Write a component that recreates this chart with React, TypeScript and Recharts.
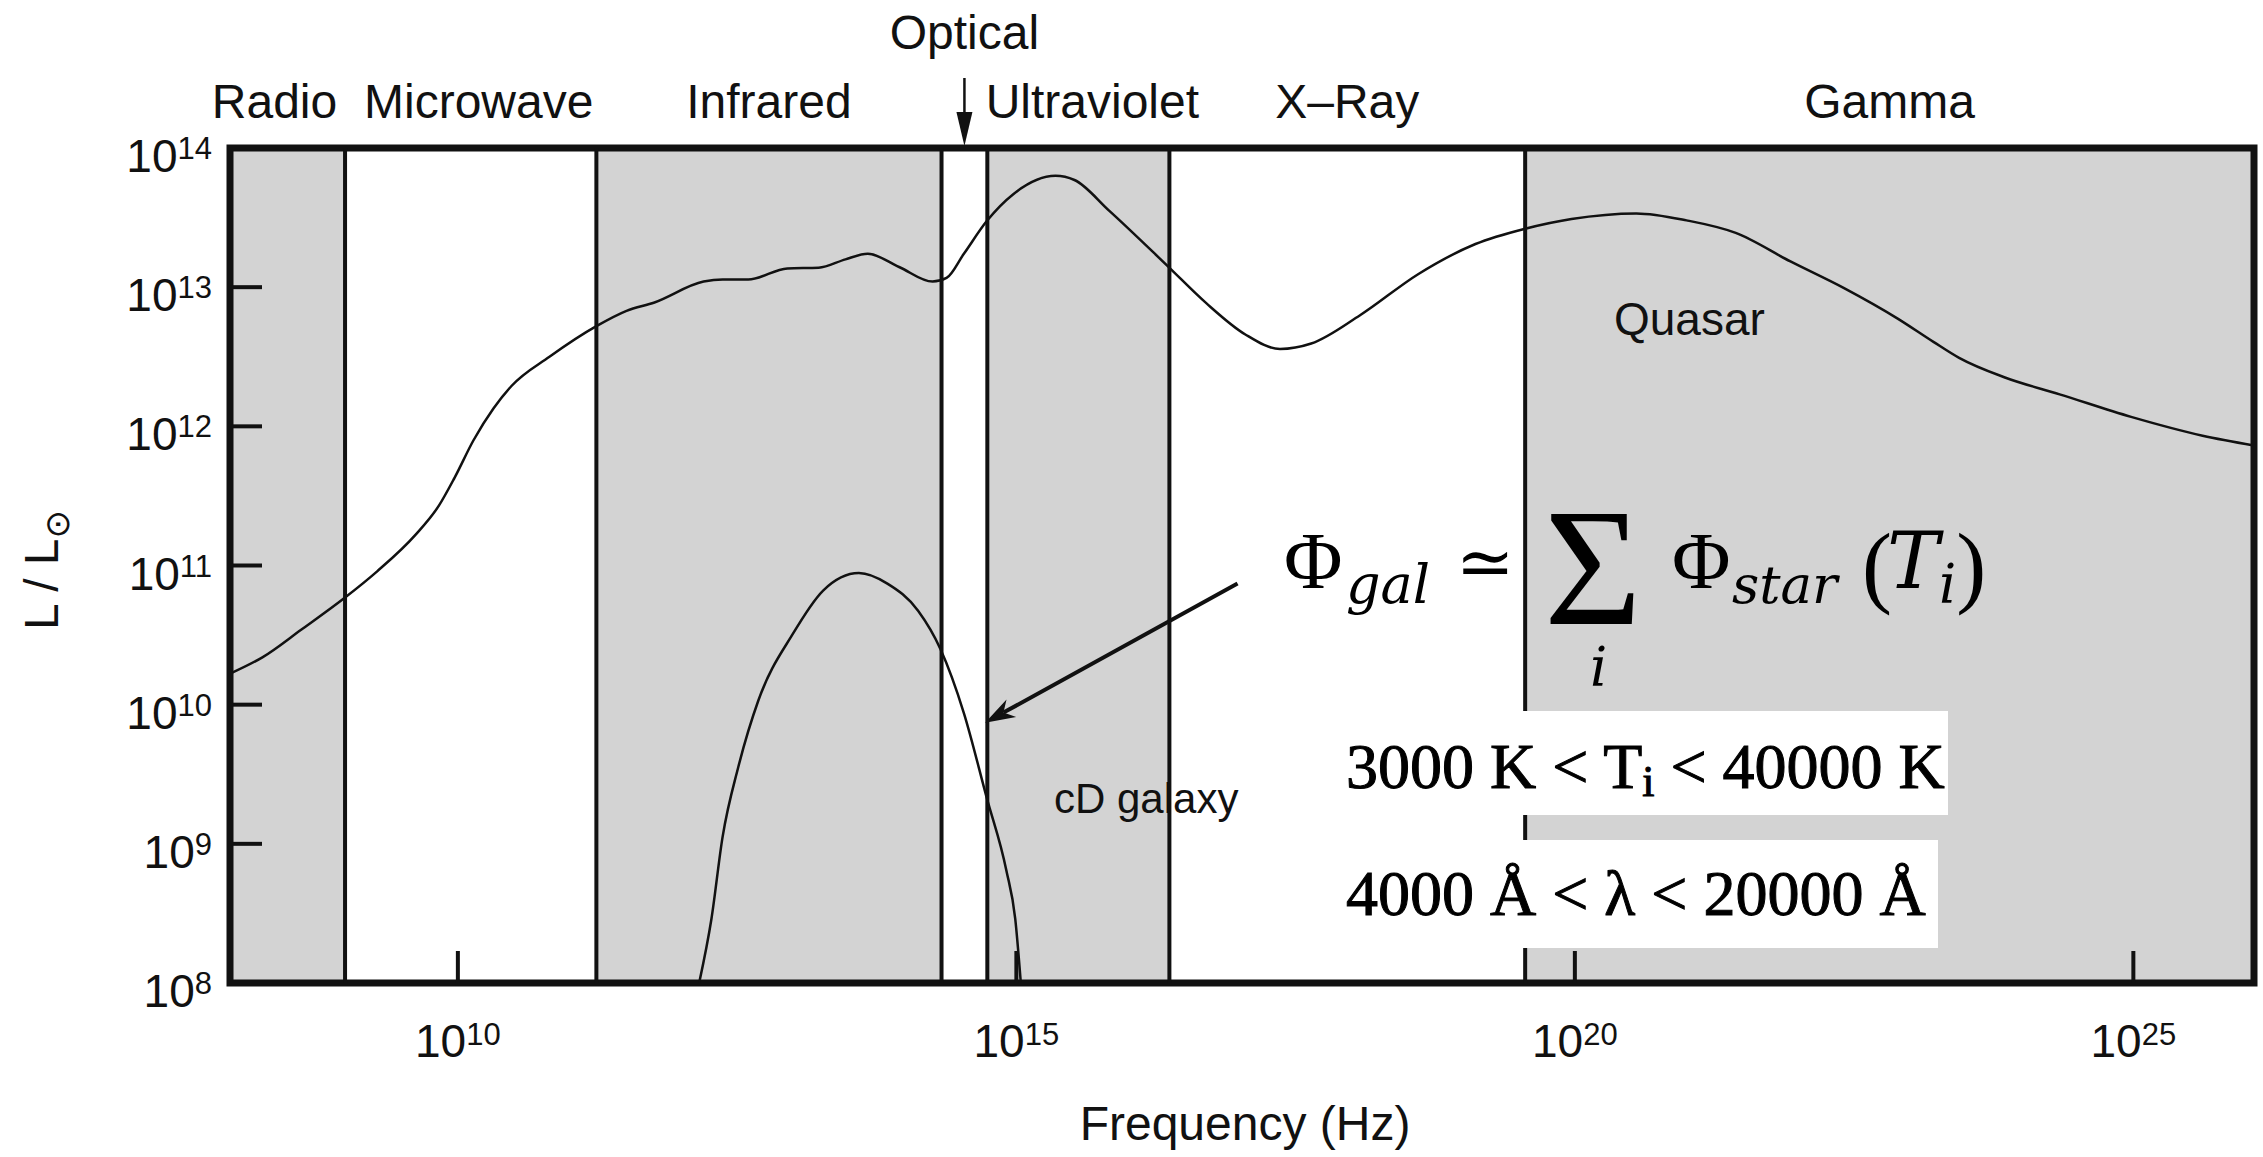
import React from 'react';
import { LineChart, Line, XAxis, YAxis, ReferenceArea, ReferenceLine } from 'recharts';

const W = 2263;
const H = 1157;

// axes are log10(frequency / Hz) and log10(L / Lsun)
const X_MIN = 7.96;
const X_MAX = 26.08;
const Y_MIN = 8;
const Y_MAX = 14;
const X_TICKS = [10, 15, 20, 25];
const Y_TICKS = [8, 9, 10, 11, 12, 13, 14];
const Y_INNER_TICKS = [9, 10, 11, 12, 13];

const BAND_NAMES = ['Radio', 'Microwave', 'Infrared', 'Optical', 'Ultraviolet', 'X–Ray', 'Gamma'];
const BAND_EDGES = [7.96, 8.99, 11.24, 14.33, 14.74, 16.37, 19.555, 26.08];
const BAND_SHADED = [true, false, true, false, true, false, true];

const QUASAR_LOG_NU = [
  7.98, 8.25, 8.6, 8.99, 9.28, 9.62, 9.83, 9.97, 10.14, 10.32, 10.48, 10.82, 11.24, 11.51,
  11.76, 12.2, 12.37, 12.6, 12.95, 13.23, 13.47, 13.67, 13.95, 14.25, 14.375, 14.53, 14.735,
  14.975, 15.35, 15.52, 15.83, 16.35, 16.7, 17.05, 17.36, 17.64, 18.08, 18.6, 19.11, 19.555,
  19.97, 20.55, 21.0, 21.44, 21.93, 22.41, 22.89, 23.21, 23.44, 23.85, 24.34, 24.98, 25.62, 26.08,
];
const QUASAR_LOG_L = [
  10.23, 10.34, 10.54, 10.77, 10.96, 11.22, 11.43, 11.63, 11.9, 12.13, 12.29, 12.5, 12.72, 12.83,
  12.89, 13.04, 13.055, 13.055, 13.135, 13.14, 13.2, 13.24, 13.145, 13.04, 13.066, 13.24, 13.475,
  13.67, 13.8, 13.77, 13.55, 13.155, 12.885, 12.66, 12.556, 12.595, 12.8, 13.095, 13.31, 13.42,
  13.49, 13.53, 13.48, 13.39, 13.185, 12.993, 12.774, 12.607, 12.492, 12.351, 12.23, 12.068, 11.933, 11.863,
];

const CD_LOG_NU = [12.16, 12.27, 12.37, 12.51, 12.69, 13.0, 13.27, 13.59, 13.845, 14.12, 14.32, 14.53, 14.735, 14.91, 14.99, 15.04];
const CD_LOG_L = [8.0, 8.46, 9.05, 9.55, 10.03, 10.51, 10.82, 10.946, 10.87, 10.675, 10.4, 9.94, 9.33, 8.81, 8.46, 8.0];

const ARROW_FROM = { x: 16.98, y: 10.87 };
const ARROW_TO = { x: 14.72, y: 9.87 };

const quasar = QUASAR_LOG_NU.map((x, i) => ({ x, y: QUASAR_LOG_L[i] }));
const cdGalaxy = CD_LOG_NU.map((x, i) => ({ x, y: CD_LOG_L[i] }));

// layout
const MARGIN = { top: 148, right: 9, bottom: 74, left: 110 };
const Y_AXIS_W = 120;
const X_AXIS_H = 100;
const PLOT_W = W - MARGIN.left - Y_AXIS_W - MARGIN.right;
const PLOT_H = H - MARGIN.top - MARGIN.bottom - X_AXIS_H;
const TICK_PX = 32;
const TICK_X = (TICK_PX * (X_MAX - X_MIN)) / PLOT_W;
const TICK_Y = (TICK_PX * (Y_MAX - Y_MIN)) / PLOT_H;

const INK = '#111';
const GRAY = '#d3d3d3';
const SANS = '"Liberation Sans", Arial, Helvetica, sans-serif';
const SERIF = '"Liberation Serif", "Times New Roman", serif';
const MATH = '"DejaVu Serif", "Liberation Serif", serif';
const LABEL_NUDGE: Record<string, number> = { Radio: -13, Microwave: 8, Ultraviolet: 14 };

const renderXTick = (p: any) => (
  <text x={p.x} y={p.y + 74} textAnchor="middle" fontFamily={SANS} fontSize={46} fill={INK}>
    10<tspan dy={-12} fontSize={31}>{p.payload.value}</tspan>
  </text>
);

const renderYTick = (p: any) => (
  <text x={p.x - 18} y={p.y + 24} textAnchor="end" fontFamily={SANS} fontSize={46} fill={INK}>
    10<tspan dy={-13} fontSize={31}>{p.payload.value}</tspan>
  </text>
);

const BandLabel = ({ viewBox, name }: any) => {
  const cx = viewBox.x + viewBox.width / 2 + (LABEL_NUDGE[name] || 0);
  const top = viewBox.y;
  if (name === 'Optical') {
    return (
      <g>
        <text x={cx} y={top - 99} textAnchor="middle" fontFamily={SANS} fontSize={48} fill={INK}>
          {name}
        </text>
        <line x1={cx} y1={top - 70} x2={cx} y2={top - 34} stroke={INK} strokeWidth={2.5} />
        <path d={`M${cx - 8},${top - 36} L${cx + 8},${top - 36} L${cx},${top - 2} Z`} fill={INK} />
      </g>
    );
  }
  return (
    <text x={cx} y={top - 30} textAnchor="middle" fontFamily={SANS} fontSize={48} fill={INK}>
      {name}
    </text>
  );
};

const ArrowShape = (p: any) => {
  const { x1, y1, x2, y2 } = p;
  const a = Math.atan2(y2 - y1, x2 - x1);
  const len = 30;
  const half = 10;
  const bx = x2 - len * Math.cos(a);
  const by = y2 - len * Math.sin(a);
  const nx = x2 - len * 0.7 * Math.cos(a);
  const ny = y2 - len * 0.7 * Math.sin(a);
  const px = -Math.sin(a) * half;
  const py = Math.cos(a) * half;
  return (
    <g>
      <line x1={x1} y1={y1} x2={nx} y2={ny} stroke={INK} strokeWidth={4} />
      <path d={`M${x2},${y2} L${bx + px},${by + py} L${nx},${ny} L${bx - px},${by - py} Z`} fill={INK} />
    </g>
  );
};

export default function App() {
  return (
    <div style={{ position: 'relative', width: W, height: H, overflow: 'hidden', background: '#fff' }}>
      <style>{'body{margin:0;overflow:hidden;background:#fff}'}</style>
      <LineChart width={W} height={H} margin={MARGIN}>
        <XAxis
          type="number"
          dataKey="x"
          domain={[X_MIN, X_MAX]}
          ticks={X_TICKS}
          interval={0}
          allowDataOverflow
          axisLine={false}
          tickLine={false}
          tickSize={0}
          tickMargin={0}
          height={X_AXIS_H}
          tick={renderXTick}
        />
        <YAxis
          type="number"
          dataKey="y"
          domain={[Y_MIN, Y_MAX]}
          ticks={Y_TICKS}
          interval={0}
          allowDataOverflow
          axisLine={false}
          tickLine={false}
          tickSize={0}
          tickMargin={0}
          width={Y_AXIS_W}
          tick={renderYTick}
        />
        {BAND_NAMES.map((name, i) => (
          <ReferenceArea
            key={name}
            x1={BAND_EDGES[i]}
            x2={BAND_EDGES[i + 1]}
            y1={Y_MIN}
            y2={Y_MAX}
            fill={BAND_SHADED[i] ? GRAY : '#fff'}
            fillOpacity={1}
            stroke="none"
            label={(p: any) => <BandLabel viewBox={p.viewBox} name={name} />}
          />
        ))}
        {BAND_EDGES.slice(1, -1).map((e) => (
          <ReferenceLine key={`edge-${e}`} x={e} stroke={INK} strokeWidth={4} />
        ))}
        {X_TICKS.map((t) => (
          <ReferenceLine
            key={`xt-${t}`}
            segment={[{ x: t, y: Y_MIN }, { x: t, y: Y_MIN + TICK_Y }]}
            stroke={INK}
            strokeWidth={4}
          />
        ))}
        {Y_INNER_TICKS.map((t) => (
          <ReferenceLine
            key={`yt-${t}`}
            segment={[{ x: X_MIN, y: t }, { x: X_MIN + TICK_X, y: t }]}
            stroke={INK}
            strokeWidth={4}
          />
        ))}
        <Line data={quasar} dataKey="y" type="monotone" dot={false} stroke={INK} strokeWidth={2.5} isAnimationActive={false} />
        <Line data={cdGalaxy} dataKey="y" type="monotone" dot={false} stroke={INK} strokeWidth={2.5} isAnimationActive={false} />
        <ReferenceLine segment={[ARROW_FROM, ARROW_TO]} shape={ArrowShape} />
        <ReferenceArea x1={X_MIN} x2={X_MAX} y1={Y_MIN} y2={Y_MAX} fill="none" stroke={INK} strokeWidth={7} />
      </LineChart>

      <svg width={W} height={H} style={{ position: 'absolute', left: 0, top: 0, pointerEvents: 'none' }}>
        <text x={1614} y={335} fontFamily={SANS} fontSize={46} fill={INK}>Quasar</text>
        <text x={1054} y={813} fontFamily={SANS} fontSize={42} fill={INK}>cD galaxy</text>
        <text x={1245} y={1140} textAnchor="middle" fontFamily={SANS} fontSize={48} fill={INK}>Frequency (Hz)</text>
        <text x={58} y={570} transform="rotate(-90 58 570)" textAnchor="middle" fontFamily={SANS} fontSize={48} fill={INK}>
          L / L<tspan dy={11} fontSize={34} fontFamily={'"DejaVu Sans", sans-serif'}>⊙</tspan>
        </text>

        <g fill="#000" fontFamily={SERIF}>
          <text x={1284} y={588} fontSize={80}>Φ</text>
          <text x={1346} y={603} fontSize={54} fontFamily={MATH} fontStyle="italic">gal</text>
          <text x={1456} y={586} fontSize={70} fontFamily={MATH}>≃</text>
          <text x={1544} y={624} fontSize={168}>
            Σ<tspan x={1590} y={686} fontSize={54} fontFamily={MATH} fontStyle="italic">i</tspan>
          </text>
          <text x={1672} y={588} fontSize={80}>Φ</text>
          <text x={1732} y={603} fontSize={53} fontFamily={MATH} fontStyle="italic">star</text>
          <text x={1862} y={596} fontSize={90}>
            (<tspan dx={-5} dy={-8} fontSize={78} fontFamily={MATH} fontStyle="italic">T</tspan>
            <tspan dy={15} fontSize={54} fontFamily={MATH} fontStyle="italic">i</tspan>
            <tspan dy={-7} fontSize={90}>)</tspan>
          </text>
        </g>

        <rect x={1312} y={711} width={636} height={104} fill="#fff" />
        <rect x={1312} y={840} width={626} height={108} fill="#fff" />
        <g fill="#000" stroke="#000" strokeWidth={1} fontFamily={SERIF} fontSize={64}>
          <text x={1346} y={788}>
            3000 K &lt; T<tspan dy={8} fontSize={44}>i</tspan>
            <tspan dy={-8}> &lt; 40000 K</tspan>
          </text>
          <text x={1346} y={915}>4000 Å &lt; λ &lt; 20000 Å</text>
        </g>
      </svg>
    </div>
  );
}
